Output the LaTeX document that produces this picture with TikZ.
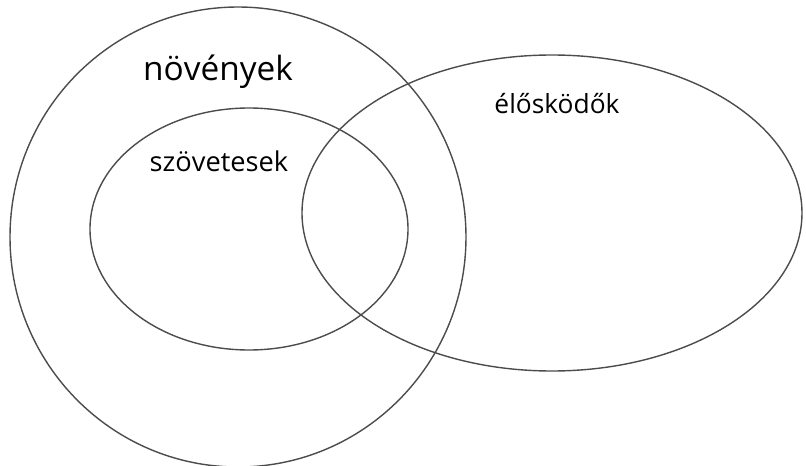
\documentclass[tikz,border=0pt]{standalone}
\usepackage{fontspec}
\setmainfont{Open Sans}
\begin{document}
\begin{tikzpicture}[x=0.02cm, y=-0.02cm, line width = 0.8pt]
		\useasboundingbox (0,0) rectangle (806,466);
		\coordinate (N) at (238,237);
		\coordinate (S) at (249,229);
		\coordinate (E) at (552,213);
		\def\nx{228}	\def\ny{230}
		\draw[black!70] (N) ellipse (\nx*0.02cm and \ny*0.02cm);
		\draw[black!70] (S) ellipse (159*0.02cm and 121*0.02cm);
		\draw[black!70] (E) ellipse (250*0.02cm and 158*0.02cm);
		\node (novenyek) at (218,72) {\fontsize{19pt}{22pt}\selectfont növények};
		\node (szovetesek) at (219,161) {\fontsize{15.5pt}{18pt}\selectfont szövetesek};
		\node (eloskodok) at (557,104) {\fontsize{15pt}{18pt}\selectfont élősködők};
	\end{tikzpicture}
\end{document}
